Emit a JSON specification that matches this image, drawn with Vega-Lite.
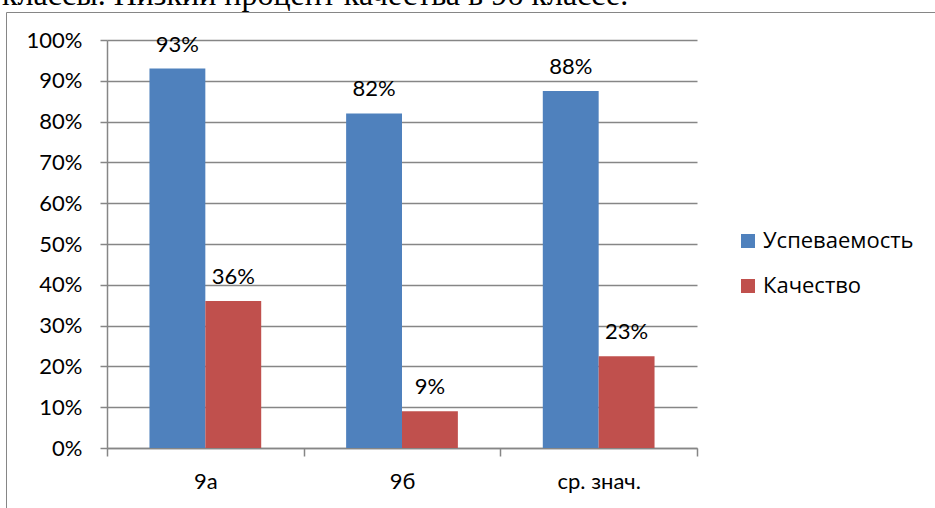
{
  "$schema": "https://vega.github.io/schema/vega-lite/v6.json",
  "width": 590,
  "height": 408,
  "autosize": "none",
  "padding": {"left": 107, "top": 40, "right": 238, "bottom": 60},
  "background": "white",
  "title": {
    "text": "классы. Низкий процент качества в 9б классе.",
    "anchor": "start",
    "frame": "group",
    "dx": -105,
    "dy": 31,
    "offset": 6,
    "font": "Liberation Serif",
    "fontSize": 32,
    "fontWeight": "normal",
    "color": "black",
    "baseline": "alphabetic"
  },
  "data": {
    "values": [
      {"class": "9а", "metric": "Успеваемость", "value": 0.93},
      {"class": "9а", "metric": "Качество", "value": 0.36},
      {"class": "9б", "metric": "Успеваемость", "value": 0.82},
      {"class": "9б", "metric": "Качество", "value": 0.09},
      {"class": "ср. знач.", "metric": "Успеваемость", "value": 0.875},
      {"class": "ср. знач.", "metric": "Качество", "value": 0.225}
    ]
  },
  "encoding": {
    "x": {
      "field": "class",
      "type": "nominal",
      "sort": null,
      "scale": {"paddingInner": 0, "paddingOuter": 0},
      "axis": {
        "title": null,
        "labelAngle": 0,
        "tickBand": "extent",
        "tickSize": 8,
        "labelPadding": 15,
        "grid": false
      }
    },
    "xOffset": {
      "field": "metric",
      "type": "nominal",
      "sort": ["Успеваемость", "Качество"],
      "scale": {"paddingInner": 0, "paddingOuter": 0.76}
    },
    "y": {
      "field": "value",
      "type": "quantitative",
      "scale": {"domain": [0, 1]},
      "axis": {
        "title": null,
        "format": ".0%",
        "values": [0, 0.1, 0.2, 0.3, 0.4, 0.5, 0.6, 0.7, 0.8, 0.9, 1],
        "grid": true,
        "tickSize": 7,
        "labelPadding": 18
      }
    }
  },
  "layer": [
    {
      "mark": {"type": "bar"},
      "encoding": {
        "color": {
          "field": "metric",
          "type": "nominal",
          "sort": ["Успеваемость", "Качество"],
          "scale": {"range": ["#4F81BD", "#C0504D"]},
          "legend": {
            "orient": "none",
            "legendX": 630,
            "legendY": 190,
            "title": null,
            "symbolType": "square",
            "symbolSize": 196,
            "symbolStrokeWidth": 0,
            "symbolOpacity": 1,
            "labelFontSize": 22,
            "labelFont": "Open Sans",
            "labelColor": "black",
            "labelOffset": 4,
            "rowPadding": 23
          }
        },
        "strokeDash": {
          "field": "class",
          "type": "nominal",
          "legend": {
            "orient": "none",
            "legendX": -101,
            "legendY": -28,
            "direction": "horizontal",
            "padding": 240,
            "columnPadding": 224,
            "strokeColor": "#868686",
            "title": null,
            "symbolType": "square",
            "symbolSize": 0,
            "symbolStrokeWidth": 0,
            "labelExpr": "''",
            "labelFontSize": 15,
            "labelOffset": 0
          }
        }
      }
    },
    {
      "mark": {
        "type": "text",
        "dy": -17,
        "baseline": "alphabetic",
        "fontSize": 22,
        "font": "Lato",
        "color": "black"
      },
      "encoding": {
        "text": {"field": "value", "type": "quantitative", "format": ".0%"}
      }
    }
  ],
  "config": {
    "view": {"stroke": null},
    "axis": {
      "domainColor": "#868686",
      "tickColor": "#868686",
      "gridColor": "#868686",
      "gridOpacity": 1,
      "domainWidth": 1.5,
      "tickWidth": 1.5,
      "gridWidth": 1.5,
      "labelFont": "Lato",
      "labelFontSize": 22,
      "labelColor": "black"
    }
  }
}
